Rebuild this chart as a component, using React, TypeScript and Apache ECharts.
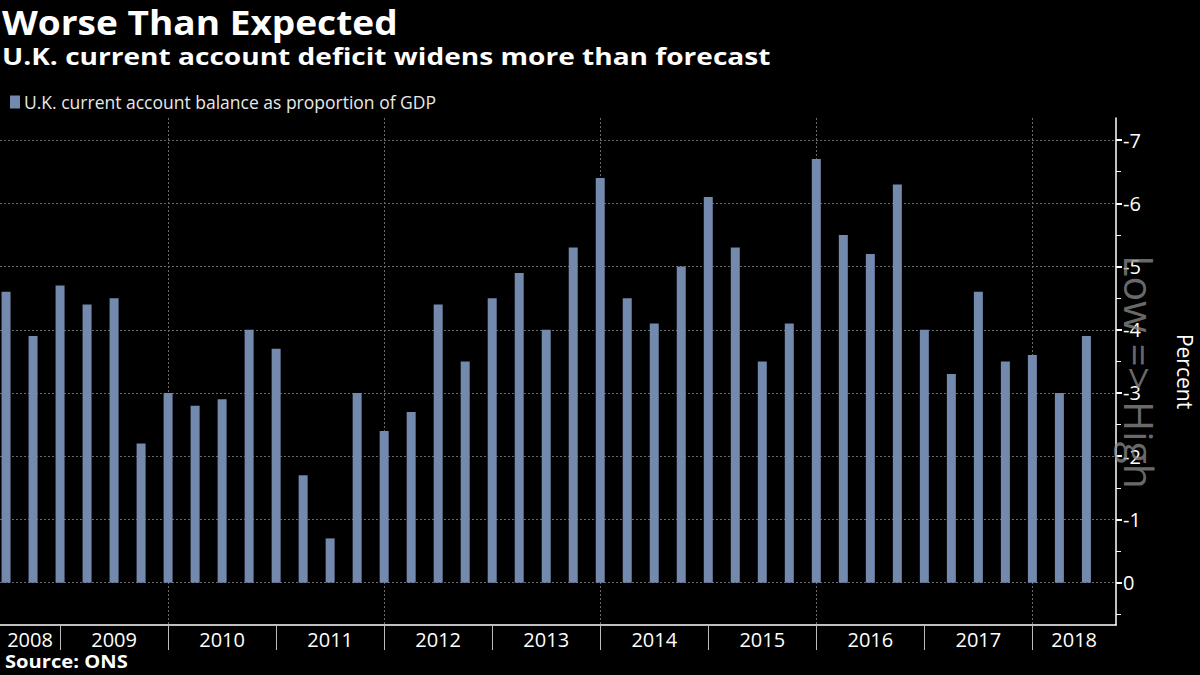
import React, { useEffect, useRef } from "react";
import * as echarts from "echarts";

// Quarterly observations (quarter-end), Q2 2008 .. Q2 2018
const quarters: string[] = [
  "2008 Q2", "2008 Q3", "2008 Q4",
  "2009 Q1", "2009 Q2", "2009 Q3", "2009 Q4",
  "2010 Q1", "2010 Q2", "2010 Q3", "2010 Q4",
  "2011 Q1", "2011 Q2", "2011 Q3", "2011 Q4",
  "2012 Q1", "2012 Q2", "2012 Q3", "2012 Q4",
  "2013 Q1", "2013 Q2", "2013 Q3", "2013 Q4",
  "2014 Q1", "2014 Q2", "2014 Q3", "2014 Q4",
  "2015 Q1", "2015 Q2", "2015 Q3", "2015 Q4",
  "2016 Q1", "2016 Q2", "2016 Q3", "2016 Q4",
  "2017 Q1", "2017 Q2", "2017 Q3", "2017 Q4",
  "2018 Q1", "2018 Q2",
];

// U.K. current account balance as % of GDP
const balance: number[] = [
  -4.6, -3.9, -4.7,
  -4.4, -4.5, -2.2, -3.0,
  -2.8, -2.9, -4.0, -3.7,
  -1.7, -0.7, -3.0, -2.4,
  -2.7, -4.4, -3.5, -4.5,
  -4.9, -4.0, -5.3, -6.4,
  -4.5, -4.1, -5.0, -6.1,
  -5.3, -3.5, -4.1, -6.7,
  -5.5, -5.2, -6.3, -4.0,
  -3.3, -4.6, -3.5, -3.6,
  -3.0, -3.9,
];

const yearBoundaries: number[] = [2009, 2010, 2011, 2012, 2013, 2014, 2015, 2016, 2017, 2018];
const gridYears: number[] = [2010, 2012, 2014, 2016, 2018];
const yMajorTicks: number[] = [-7, -6, -5, -4, -3, -2, -1, 0];
const yMinorTicks: number[] = [-6.5, -5.5, -4.5, -3.5, -2.5, -1.5, -0.5, 0.5];

const X_MIN = 2008.444;
const X_MAX = 2018.774;
const Y_MIN = -7.35;
const Y_MAX = 0.67;

const seriesName = "U.K. current account balance as proportion of GDP";

function quarterEnd(q: string): number {
  const [y, qq] = q.split(" Q");
  return Number(y) + Number(qq) / 4;
}

const yearLabelPositions: number[] = [
  (X_MIN + yearBoundaries[0]) / 2,
  ...yearBoundaries.slice(0, -1).map((y) => y + 0.5),
  (yearBoundaries[yearBoundaries.length - 1] + X_MAX) / 2,
];

const FONT = "'Open Sans', 'Noto Sans', sans-serif";

export default function App() {
  const ref = useRef<HTMLDivElement>(null);

  useEffect(() => {
    document.body.style.margin = "0";
    document.body.style.background = "#000";
    if (!ref.current) return;
    const chart = echarts.init(ref.current, null, { renderer: "svg" });

    const barData = quarters.map((q, i) => [quarterEnd(q), balance[i]]);
    const gridLineStyle = { color: "#6a6a6a", type: [2, 2], width: 1 };

    chart.setOption({
      animation: false,
      backgroundColor: "#000",
      textStyle: { fontFamily: FONT },
      legend: {
        data: [seriesName],
        left: 10,
        top: 93,
        icon: "rect",
        itemWidth: 10,
        itemHeight: 13,
        itemGap: 4,
        padding: 0,
        selectedMode: false,
        textStyle: { color: "#e8e8e8", fontSize: 17.5, fontFamily: FONT, padding: [0, 0, 0, -1] },
      },
      grid: {
        left: 0,
        right: 84,
        top: 118,
        bottom: 50,
        containLabel: false,
        outerBoundsMode: "none",
      },
      xAxis: [
        {
          type: "value",
          min: X_MIN,
          max: X_MAX,
          position: "bottom",
          axisLine: { show: true, onZero: false, lineStyle: { color: "#ffffff", width: 1.5 } },
          axisTick: {
            show: true,
            customValues: yearBoundaries,
            length: 25,
            lineStyle: { color: "#bbbbbb", width: 1 },
          },
          axisLabel: {
            show: true,
            customValues: yearLabelPositions,
            formatter: (v: number) => String(Math.floor(v)),
            color: "#ffffff",
            fontSize: 20,
            margin: 4,
            fontFamily: FONT,
          },
          splitLine: { show: false },
        },
        {
          type: "value",
          min: X_MIN,
          max: X_MAX,
          position: "bottom",
          axisLine: { show: false },
          axisTick: { show: false, customValues: gridYears },
          axisLabel: { show: false, customValues: gridYears },
          splitLine: {
            show: true,
            showMinLine: true,
            showMaxLine: true,
            lineStyle: gridLineStyle,
          },
        },
      ],
      yAxis: [
        {
          type: "value",
          inverse: true,
          min: Y_MIN,
          max: Y_MAX,
          position: "right",
          name: "Percent",
          nameLocation: "middle",
          nameRotate: -90,
          nameGap: 58,
          nameTextStyle: { color: "#ffffff", fontSize: 21, fontFamily: FONT },
          axisLine: { show: true, onZero: false, lineStyle: { color: "#ffffff", width: 1.5 } },
          axisTick: {
            show: true,
            customValues: yMajorTicks,
            length: 6,
            lineStyle: { color: "#ffffff", width: 2 },
          },
          axisLabel: {
            show: true,
            customValues: yMajorTicks,
            color: "#ffffff",
            fontSize: 20,
            margin: 7,
            fontFamily: FONT,
          },
          splitLine: {
            show: true,
            showMinLine: true,
            showMaxLine: true,
            lineStyle: gridLineStyle,
          },
        },
        {
          type: "value",
          inverse: true,
          min: Y_MIN,
          max: Y_MAX,
          position: "right",
          axisLine: { show: false },
          axisTick: {
            show: true,
            customValues: yMinorTicks,
            length: 5,
            lineStyle: { color: "#ffffff", width: 1 },
          },
          axisLabel: { show: false },
          splitLine: { show: false },
        },
      ],
      series: [
        {
          name: seriesName,
          type: "bar",
          xAxisIndex: 0,
          yAxisIndex: 0,
          data: barData,
          barWidth: 9,
          itemStyle: { color: "#7389ad" },
          z: 3,
        },
      ],
      graphic: [
        {
          type: "text",
          x: 2,
          y: 5,
          scaleX: 1.09,
          style: {
            text: "Worse Than Expected",
            fill: "#ffffff",
            font: `bold 34px ${FONT}`,
            verticalAlign: "top",
          },
        },
        {
          type: "text",
          x: 2,
          y: 44,
          scaleX: 1.17,
          style: {
            text: "U.K. current account deficit widens more than forecast",
            fill: "#ffffff",
            font: `bold 24px ${FONT}`,
            verticalAlign: "top",
          },
        },
        {
          type: "text",
          x: 5,
          y: 652,
          scaleX: 1.12,
          style: {
            text: "Source: ONS",
            fill: "#ffffff",
            font: `bold 18px ${FONT}`,
            verticalAlign: "top",
          },
        },
        {
          type: "text",
          x: 1140,
          y: 372,
          rotation: -Math.PI / 2,
          style: {
            text: "Low => High",
            fill: "rgba(140,140,140,0.75)",
            font: `41px ${FONT}`,
            align: "center",
            verticalAlign: "middle",
          },
          z: 10,
        },
      ],
    });

    return () => chart.dispose();
  }, []);

  return <div ref={ref} style={{ width: 1200, height: 675, background: "#000" }} />;
}
